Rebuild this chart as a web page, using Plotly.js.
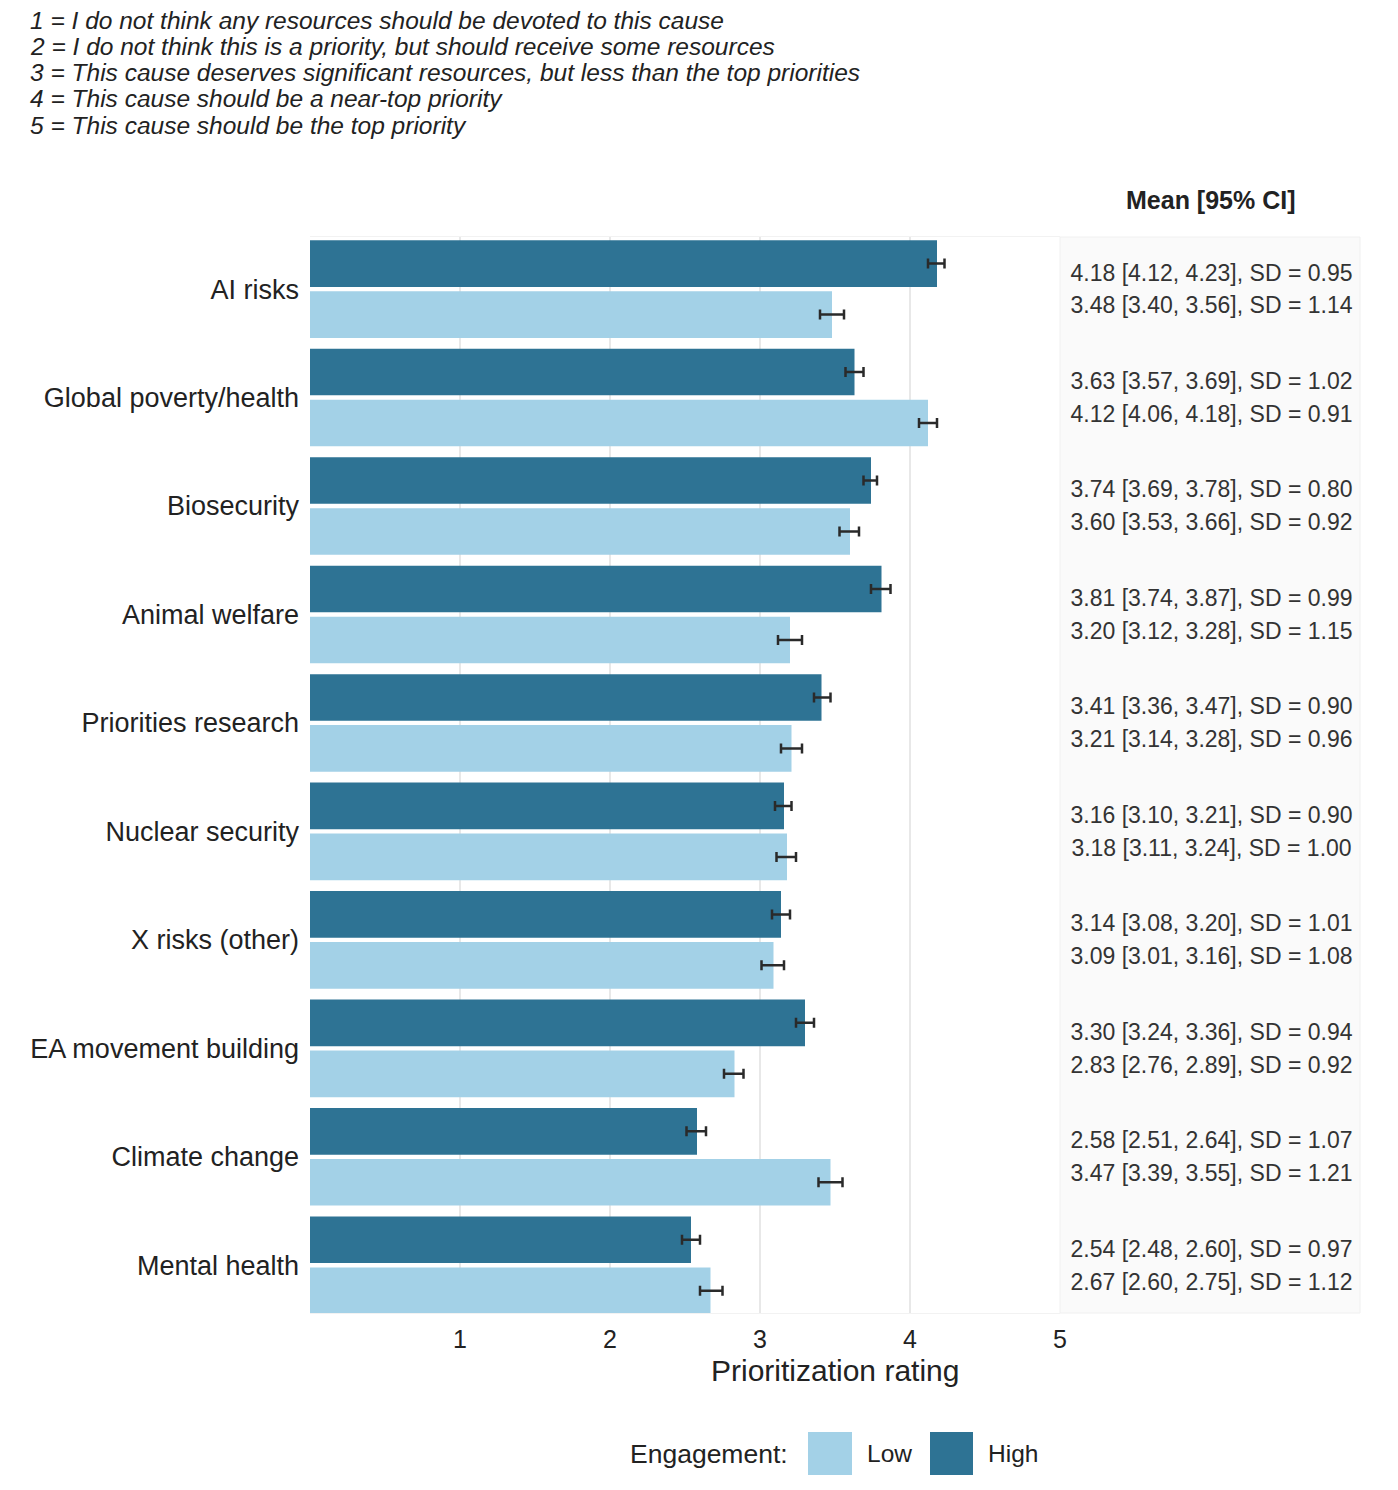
<!DOCTYPE html>
<html>
<head>
<meta charset="utf-8">
<script src="https://cdn.plot.ly/plotly-3.0.1.min.js"></script>
<style>
  body { margin: 0; background: #fff; }
  #graph { width: 1398px; height: 1490px; }
</style>
</head>
<body>
<div id="graph"></div>
<script>
// causes, top to bottom
var categories = ["AI risks", "Global poverty/health", "Biosecurity", "Animal welfare",
  "Priorities research", "Nuclear security", "X risks (other)", "EA movement building",
  "Climate change", "Mental health"];

// high engagement: mean, 95% CI, SD
var highMean = [4.18, 3.63, 3.74, 3.81, 3.41, 3.16, 3.14, 3.30, 2.58, 2.54];
var highLo   = [4.12, 3.57, 3.69, 3.74, 3.36, 3.10, 3.08, 3.24, 2.51, 2.48];
var highHi   = [4.23, 3.69, 3.78, 3.87, 3.47, 3.21, 3.20, 3.36, 2.64, 2.60];
var highSD   = [0.95, 1.02, 0.80, 0.99, 0.90, 0.90, 1.01, 0.94, 1.07, 0.97];

// low engagement
var lowMean = [3.48, 4.12, 3.60, 3.20, 3.21, 3.18, 3.09, 2.83, 3.47, 2.67];
var lowLo   = [3.40, 4.06, 3.53, 3.12, 3.14, 3.11, 3.01, 2.76, 3.39, 2.60];
var lowHi   = [3.56, 4.18, 3.66, 3.28, 3.28, 3.24, 3.16, 2.89, 3.55, 2.75];
var lowSD   = [1.14, 0.91, 0.92, 1.15, 0.96, 1.00, 1.08, 0.92, 1.21, 1.12];

var xTicks = [1, 2, 3, 4, 5];

var notes = [
  "1 = I do not think any resources should be devoted to this cause",
  "2 = I do not think this is a priority, but should receive some resources",
  "3 = This cause deserves significant resources, but less than the top priorities",
  "4 = This cause should be a near-top priority",
  "5 = This cause should be the top priority"
];

var DARK = "#2E7394", LIGHT = "#A3D1E7";
var FONT = "Liberation Sans, Arial, sans-serif";

var pos = categories.map((c, i) => i);

function fmt(v) { return v.toFixed(2); }
function label(m, lo, hi, sd) {
  return m.map((v, i) => fmt(v) + " [" + fmt(lo[i]) + ", " + fmt(hi[i]) + "], SD = " + fmt(sd[i]));
}

var errStyle = { type: "data", symmetric: false, color: "#2a2a2a", thickness: 2.5, width: 5 };

var traceHigh = {
  type: "bar", orientation: "h", name: "High",
  x: highMean, y: pos, width: 0.43, offset: -0.45,
  marker: { color: DARK },
  error_x: Object.assign({}, errStyle, {
    array: highHi.map((v, i) => v - highMean[i]),
    arrayminus: highLo.map((v, i) => highMean[i] - v)
  }),
  hoverinfo: "x", showlegend: false
};

var traceLow = {
  type: "bar", orientation: "h", name: "Low",
  x: lowMean, y: pos, width: 0.43, offset: 0.02,
  marker: { color: LIGHT },
  error_x: Object.assign({}, errStyle, {
    array: lowHi.map((v, i) => v - lowMean[i]),
    arrayminus: lowLo.map((v, i) => lowMean[i] - v)
  }),
  hoverinfo: "x", showlegend: false
};

// the text column on the right
var textHigh = {
  type: "scatter", mode: "text", xaxis: "x2", yaxis: "y",
  x: pos.map(() => 0.505), y: pos.map(p => p - 0.132),
  text: label(highMean, highLo, highHi, highSD),
  textfont: { family: FONT, size: 23, color: "#333" },
  cliponaxis: false, hoverinfo: "skip", showlegend: false
};
var textLow = {
  type: "scatter", mode: "text", xaxis: "x2", yaxis: "y",
  x: pos.map(() => 0.505), y: pos.map(p => p + 0.172),
  text: label(lowMean, lowLo, lowHi, lowSD),
  textfont: { family: FONT, size: 23, color: "#333" },
  cliponaxis: false, hoverinfo: "skip", showlegend: false
};

var data = [traceHigh, traceLow, textHigh, textLow];

var split = 750 / 1050;

var annotations = notes.map((t, i) => ({
  text: "<i>" + t + "</i>", xref: "paper", yref: "paper",
  x: -0.2686, xanchor: "left",
  y: (1313 - (20 + i * 26.3)) / 1076, yanchor: "middle",
  showarrow: false, font: { family: FONT, size: 24.5, color: "#222" }
}));
annotations.push({
  text: "<b>Mean [95% CI]</b>", xref: "x2 domain", yref: "paper",
  x: 0.5, y: 1.0344, xanchor: "center", yanchor: "middle",
  showarrow: false, font: { family: FONT, size: 25, color: "#222" }
});
annotations.push({
  text: "Prioritization rating", xref: "paper", yref: "paper",
  x: 0.5, y: -0.053, xanchor: "center", yanchor: "middle",
  showarrow: false, font: { family: FONT, size: 30, color: "#222" }
});
// legend
annotations.push({
  text: "Engagement:", xref: "paper", yref: "paper",
  x: (790 - 310) / 1050, y: -0.131, xanchor: "right", yanchor: "middle",
  showarrow: false, font: { family: FONT, size: 26.5, color: "#222" }
});
annotations.push({
  text: "Low", xref: "paper", yref: "paper",
  x: (865 - 310) / 1050, y: -0.131, xanchor: "left", yanchor: "middle",
  showarrow: false, font: { family: FONT, size: 24.5, color: "#222" }
});
annotations.push({
  text: "High", xref: "paper", yref: "paper",
  x: (986 - 310) / 1050, y: -0.131, xanchor: "left", yanchor: "middle",
  showarrow: false, font: { family: FONT, size: 24.5, color: "#222" }
});

var shapes = [
  { type: "rect", xref: "x2 domain", yref: "y domain", x0: 0, x1: 1, y0: 0, y1: 1,
    fillcolor: "#FAFAFA", line: { color: "#F0F0F0", width: 1 }, layer: "below" },
  { type: "rect", xref: "paper", yref: "paper",
    x0: (808 - 310) / 1050, x1: (852 - 310) / 1050, y0: (1313 - 1475) / 1076, y1: (1313 - 1432) / 1076,
    fillcolor: LIGHT, line: { width: 0 } },
  { type: "rect", xref: "paper", yref: "paper",
    x0: (930 - 310) / 1050, x1: (973 - 310) / 1050, y0: (1313 - 1475) / 1076, y1: (1313 - 1432) / 1076,
    fillcolor: DARK, line: { width: 0 } }
];

var layout = {
  width: 1398, height: 1490,
  margin: { l: 310, r: 38, t: 237, b: 177 },
  paper_bgcolor: "#fff", plot_bgcolor: "#fff",
  font: { family: FONT, color: "#222" },
  barmode: "overlay",
  showlegend: false,
  xaxis: {
    domain: [0, split], range: [0, 5],
    tickvals: xTicks, ticktext: xTicks.map(String),
    tickfont: { family: FONT, size: 25, color: "#222" },
    showgrid: true, gridcolor: "#E8E8E8", gridwidth: 1.5,
    zeroline: false, showline: true, mirror: true, linecolor: "#F2F2F2", linewidth: 1,
    ticks: "", ticklabelstandoff: 4, fixedrange: true
  },
  xaxis2: {
    domain: [split, 1], range: [0, 1], anchor: "y",
    showgrid: false, zeroline: false, showticklabels: false, ticks: "", fixedrange: true
  },
  yaxis: {
    range: [9.44, -0.48],
    tickvals: pos, ticktext: categories,
    tickfont: { family: FONT, size: 27, color: "#222" },
    showgrid: false, zeroline: false, showline: false, ticks: "",
    ticklabelstandoff: 10, fixedrange: true
  },
  annotations: annotations,
  shapes: shapes
};

Plotly.newPlot("graph", data, layout, { displayModeBar: false, staticPlot: true });
</script>
</body>
</html>
